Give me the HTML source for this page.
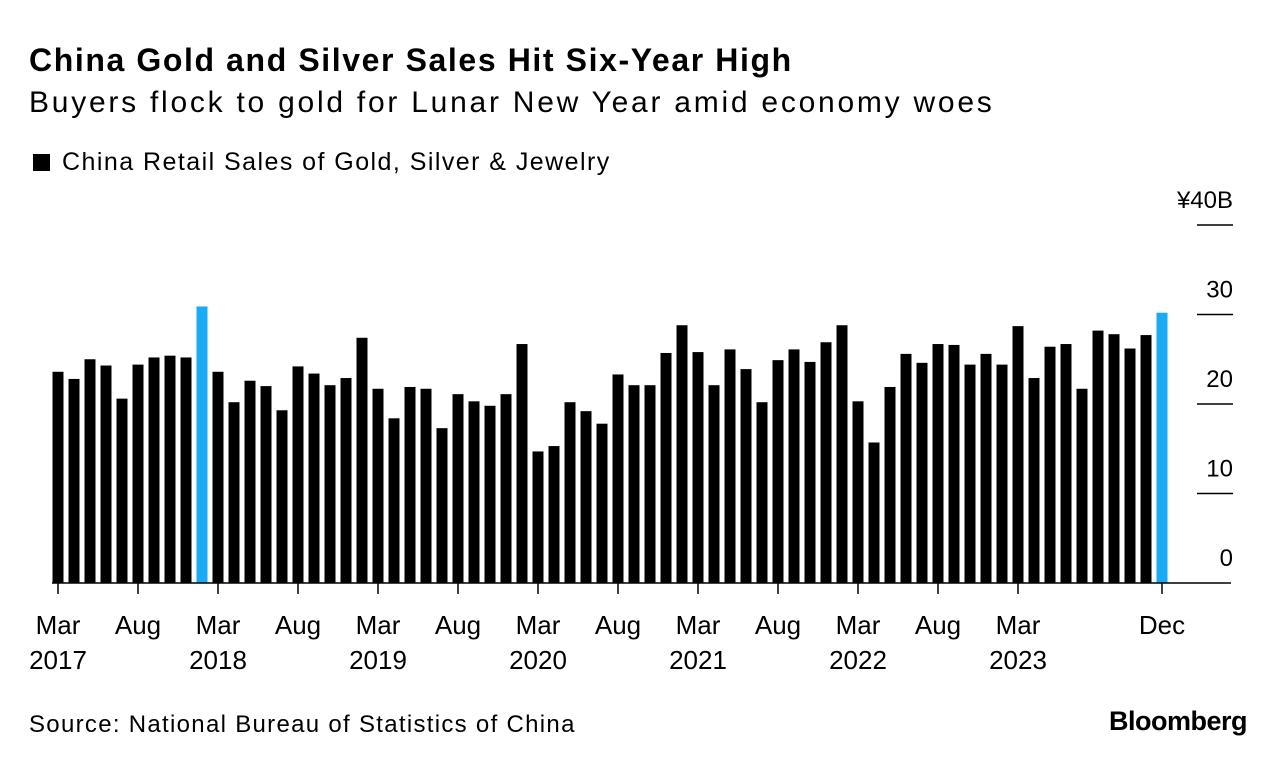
<!DOCTYPE html>
<html><head><meta charset="utf-8">
<style>
body{margin:0;background:#fff;width:1285px;height:768px;overflow:hidden;font-family:"Liberation Sans",sans-serif;color:#000}
#title{position:absolute;left:29px;top:42px;font-size:32px;font-weight:bold;letter-spacing:1.6px;white-space:nowrap}
#subtitle{position:absolute;left:29px;top:86px;font-size:30px;letter-spacing:2.75px;white-space:nowrap}
#legend{position:absolute;left:33px;top:148px;font-size:25px;letter-spacing:1.45px;display:flex;align-items:center;white-space:nowrap}
#legend span.sw{display:inline-block;width:17px;height:17px;background:#000;margin-right:12px}
#source{position:absolute;left:29px;top:711px;font-size:24px;letter-spacing:1.3px;white-space:nowrap}
#brand{position:absolute;right:38px;top:706px;font-size:27px;font-weight:bold;letter-spacing:-0.5px}
svg{position:absolute;left:0;top:0}
</style></head>
<body>
<div id="title">China Gold and Silver Sales Hit Six-Year High</div>
<div id="subtitle">Buyers flock to gold for Lunar New Year amid economy woes</div>
<div id="legend"><span class="sw"></span>China Retail Sales of Gold, Silver &amp; Jewelry</div>
<svg id="chart" width="1285" height="768"></svg>
<div id="source">Source: National Bureau of Statistics of China</div>
<div id="brand">Bloomberg</div>
<script>
const years = [2017,2018,2019,2020,2021,2022,2023];
const values2017 = [23.6,22.8,25.0,24.3,20.6,24.4,25.2,25.4,25.2,30.9];
const values2018 = [23.6,20.2,22.6,22.0,19.3,24.2,23.4,22.1,22.9,27.4];
const values2019 = [21.7,18.4,21.9,21.7,17.3,21.1,20.3,19.8,21.1,26.7];
const values2020 = [14.7,15.3,20.2,19.2,17.8,23.3,22.1,22.1,25.7,28.8];
const values2021 = [25.8,22.1,26.1,23.9,20.2,24.9,26.1,24.7,26.9,28.8];
const values2022 = [20.3,15.7,21.9,25.6,24.6,26.7,26.6,24.4,25.6,24.4];
const values2023 = [28.7,22.9,26.4,26.7,21.7,28.2,27.8,26.2,27.7,30.2];
const monthNames = ["Mar","Apr","May","Jun","Jul","Aug","Sep","Oct","Nov","Dec"];
const yTicks = [0,10,20,30,40];
const yTickLabels = ["0","10","20","30","¥40B"];

const svg = document.getElementById('chart');
const NS = 'http://www.w3.org/2000/svg';
const x0 = 58, step = 16, y0 = 583, pxPerUnit = 8.95, barW = 11;
const xScale = i => x0 + i*step;
const yScale = v => y0 - v*pxPerUnit;
function mk(tag, attrs){const e=document.createElementNS(NS,tag);for(const k in attrs)e.setAttribute(k,attrs[k]);svg.appendChild(e);return e;}

const series = [values2017,values2018,values2019,values2020,values2021,values2022,values2023];
const values = [].concat(...series);
const labels = [];
years.forEach((y)=>monthNames.forEach(m=>labels.push({m,y})));

yTicks.forEach((t,i)=>{
  if(t>0){
    const g = mk('line',{x1:1197,x2:1233,y1:yScale(t),y2:yScale(t),stroke:'#000','stroke-width':1.5});
    
    
  }
  const tx = mk('text',{x:1233,y:yScale(t)-17,'text-anchor':'end','font-size':24,'font-family':'Liberation Sans, sans-serif'});
  tx.textContent = yTickLabels[i];
  
  
});

values.forEach((v,i)=>{
  const last = (i === values.length-1);
  const isHigh = labels[i].m === 'Dec' && (labels[i].y===2017 || last);
  const r = mk('rect',{x:xScale(i)-barW/2,y:yScale(v),width:barW,height:y0-yScale(v),fill:isHigh?'#1aabf5':'#000'});
  
  
});

const bl = mk('line',{x1:52,x2:1231,y1:y0,y2:y0,stroke:'#000','stroke-width':1.5});



labels.forEach((l,i)=>{
  const isLast = i===labels.length-1;
  let show = false;
  if(l.m==='Mar') show = true;
  if(l.m==='Aug' && l.y<2023) show = true;
  if(isLast) show = true;
  if(!show) return;
  const tk = mk('line',{x1:xScale(i),x2:xScale(i),y1:y0,y2:y0+11,stroke:'#000','stroke-width':1.5});
  
  
  const t1 = mk('text',{x:xScale(i),y:634,'text-anchor':'middle','font-size':26,'font-family':'Liberation Sans, sans-serif'});
  t1.textContent = l.m;
  
  
  if(l.m==='Mar'){
    const t2 = mk('text',{x:xScale(i),y:669,'text-anchor':'middle','font-size':26,'font-family':'Liberation Sans, sans-serif'});
    t2.textContent = String(l.y);
    
    
  }
});
</script>
</body></html>
